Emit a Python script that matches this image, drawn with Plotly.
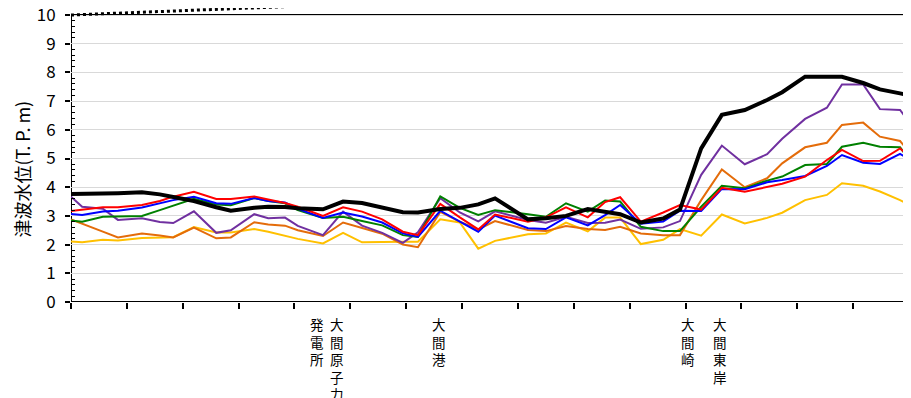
import plotly.graph_objects as go

# position along the coast (axis units, 15 tick intervals)
position = [0.00, 0.20, 0.57, 0.84, 1.27, 1.59, 1.83, 2.20, 2.60, 2.86,
            3.28, 3.53, 3.83, 4.06, 4.51, 4.87, 5.21, 5.57, 5.94, 6.21,
            6.61, 6.96, 7.29, 7.59, 8.18, 8.50, 8.86, 9.25, 9.56, 9.83,
            10.20, 10.60, 10.90, 11.28, 11.65, 12.06, 12.46, 12.73, 13.14, 13.53,
            13.80, 14.18, 14.48, 14.84, 15.00]

black = [3.76, 3.76, 3.76, 3.79, 3.82, 3.75, 3.66, 3.52, 3.30, 3.18,
         3.28, 3.32, 3.31, 3.27, 3.23, 3.50, 3.45, 3.30, 3.13, 3.12,
         3.24, 3.28, 3.40, 3.61, 2.88, 2.92, 3.00, 3.24, 3.15, 3.06,
         2.77, 2.91, 3.22, 5.35, 6.52, 6.69, 7.04, 7.31, 7.85, 7.85,
         7.85, 7.63, 7.41, 7.27, 7.21]

red = [3.17, 3.21, 3.30, 3.30, 3.38, 3.52, 3.67, 3.84, 3.59, 3.59,
       3.68, 3.57, 3.45, 3.32, 3.00, 3.30, 3.15, 2.88, 2.45, 2.33,
       3.42, 2.95, 2.53, 3.05, 2.80, 2.95, 3.30, 2.95, 3.48, 3.65,
       2.80, 3.12, 3.38, 3.22, 3.98, 3.84, 4.00, 4.12, 4.37, 4.95,
       5.30, 4.91, 4.92, 5.35, 5.08]

blue = [3.07, 3.03, 3.15, 3.18, 3.29, 3.45, 3.55, 3.67, 3.44, 3.42,
        3.62, 3.52, 3.47, 3.25, 2.93, 3.12, 2.98, 2.77, 2.39, 2.27,
        3.18, 2.80, 2.45, 3.01, 2.57, 2.54, 2.95, 2.67, 3.03, 3.38,
        2.73, 2.80, 3.18, 3.17, 3.94, 3.93, 4.17, 4.25, 4.39, 4.74,
        5.12, 4.85, 4.81, 5.16, 4.98]

green = [2.84, 2.80, 2.97, 2.98, 3.00, 3.20, 3.35, 3.60, 3.40, 3.37,
         3.62, 3.52, 3.44, 3.20, 2.93, 2.97, 2.82, 2.67, 2.33, 2.27,
         3.68, 3.28, 3.03, 3.20, 3.06, 2.97, 3.44, 3.15, 3.54, 3.50,
         2.62, 2.47, 2.47, 3.32, 4.05, 3.96, 4.23, 4.37, 4.77, 4.81,
         5.41, 5.55, 5.41, 5.39, 4.97]

purple = [3.67, 3.32, 3.25, 2.86, 2.92, 2.79, 2.75, 3.16, 2.41, 2.50,
          3.06, 2.92, 2.94, 2.65, 2.33, 3.15, 2.66, 2.41, 2.06, 2.43,
          3.62, 3.12, 2.81, 3.16, 2.86, 2.76, 2.97, 2.75, 2.76, 2.87,
          2.55, 2.60, 2.82, 4.43, 5.45, 4.80, 5.15, 5.69, 6.38, 6.77,
          7.58, 7.58, 6.72, 6.69, 6.28]

orange = [2.88, 2.72, 2.45, 2.25, 2.39, 2.32, 2.25, 2.59, 2.22, 2.25,
          2.78, 2.70, 2.66, 2.50, 2.30, 2.77, 2.58, 2.38, 2.00, 1.91,
          3.14, 2.80, 2.53, 2.82, 2.51, 2.47, 2.65, 2.54, 2.51, 2.62,
          2.39, 2.33, 2.33, 3.55, 4.62, 4.00, 4.31, 4.83, 5.39, 5.55,
          6.17, 6.25, 5.76, 5.61, 5.24]

yellow = [2.11, 2.08, 2.17, 2.14, 2.23, 2.25, 2.26, 2.61, 2.42, 2.42,
          2.54, 2.45, 2.30, 2.20, 2.04, 2.41, 2.08, 2.10, 2.10, 2.10,
          2.88, 2.77, 1.86, 2.13, 2.36, 2.39, 2.77, 2.46, 2.94, 2.94,
          2.02, 2.17, 2.54, 2.31, 3.05, 2.74, 2.93, 3.11, 3.55, 3.73,
          4.14, 4.05, 3.85, 3.55, 3.38]

# dotted reference line (runs off the top of the chart)
dotted_pos = [0.0, 7.0]
dotted_val = [10.0, 10.53]

y_ticks = [0, 1, 2, 3, 4, 5, 6, 7, 8, 9, 10]
x_ticks = list(range(16))

place_pos = [4.76, 4.40, 6.58, 11.05, 11.62]
place_names = ["大間原子力", "発電所", "大間港", "大間崎", "大間東岸"]

JP = "Noto Sans CJK JP"

fig = go.Figure()

series = [
    (yellow, "#FFC000", 2),
    (orange, "#E46C0A", 2),
    (purple, "#7030A0", 2),
    (green, "#008000", 2),
    (blue, "#0000FF", 2),
    (red, "#FF0000", 2),
    (black, "#000000", 4),
]
for vals, col, w in series:
    fig.add_trace(go.Scatter(x=position, y=vals, mode="lines",
                             line=dict(color=col, width=w), hoverinfo="skip"))

fig.add_trace(go.Scatter(x=dotted_pos, y=dotted_val, mode="lines",
                         line=dict(color="#000000", width=3, dash="dot"),
                         hoverinfo="skip"))

# plot-area frame
fig.add_shape(type="rect", xref="x", yref="y", x0=0, x1=15, y0=0, y1=10,
              line=dict(color="#000000", width=2), layer="below")

for p, name in zip(place_pos, place_names):
    fig.add_annotation(x=p, xref="x", y=-0.038, yref="paper",
                       text="<br>".join(list(name)), showarrow=False,
                       xanchor="center", yanchor="top", borderpad=0,
                       font=dict(family=JP, size=13.5, color="#000000"))

fig.add_annotation(x=-0.0585, xref="paper", y=0.454, yref="paper",
                   text="津波水位(T. P. m)", textangle=-90, showarrow=False,
                   xanchor="center", yanchor="middle",
                   font=dict(family=JP, size=18, color="#000000"))

minor_vals = [i / 5 for i in range(51) if i % 5]

# page body has an 8px margin; figure sized so plot area lands at x 71-909, y 15-302
fig.update_layout(
    width=903, height=390,
    margin=dict(l=63, r=2, t=0, b=96, autoexpand=False),
    paper_bgcolor="white", plot_bgcolor="white",
    showlegend=False,
    font=dict(family=JP, color="#000000"),
    xaxis=dict(range=[0, 15], tickvals=x_ticks, showticklabels=False,
               ticks="outside", ticklen=6, tickwidth=1.5, tickcolor="#000000",
               showgrid=False, zeroline=False, showline=False,
               automargin=False),
    yaxis=dict(range=[0, 10.244], tickvals=y_ticks, ticks="outside",
               ticklen=5, tickwidth=1.5, tickcolor="#000000",
               ticklabelstandoff=6, ticklabeloverflow="allow",
               tickfont=dict(family=JP, size=17, color="#000000"),
               showgrid=True, gridcolor="#D9D9D9", gridwidth=1,
               zeroline=False, showline=False, automargin=False,
               minor=dict(tickvals=minor_vals, ticks="inside", ticklen=4,
                          tickwidth=1, tickcolor="#000000", showgrid=False)),
)

fig.write_html("out.html")
